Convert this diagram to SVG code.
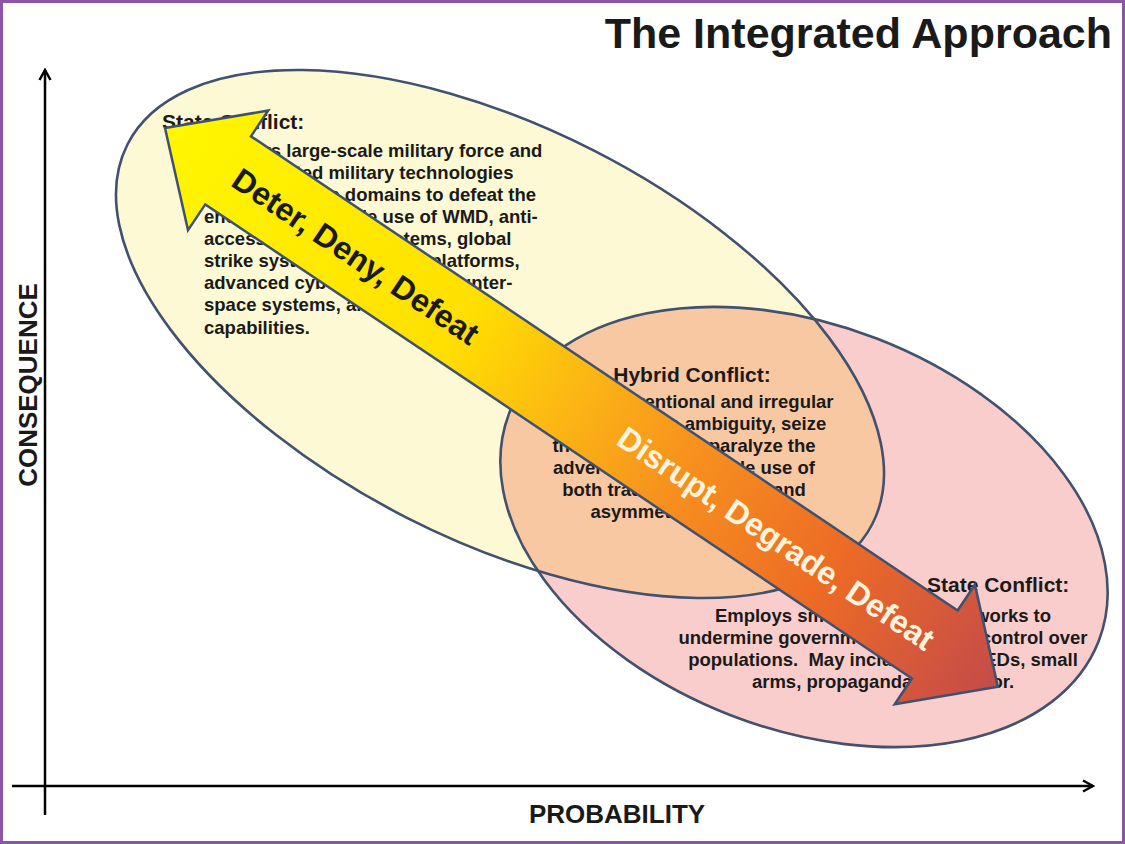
<svg xmlns="http://www.w3.org/2000/svg" width="1125" height="844" viewBox="0 0 1125 844">
<defs>
<style>
.t{font-family:"Liberation Sans",Arial,Helvetica,sans-serif;font-weight:bold;fill:#1a1a1a}
.body{font-size:18.5px}
.head{font-size:21px}
.ell{stroke:#42526e;stroke-width:2.6;fill:none}
.axis{stroke:#000;stroke-width:2.5;fill:none}
.mid{text-anchor:middle}
</style>
<ellipse id="shapeY" cx="500" cy="334" rx="418" ry="206" transform="rotate(27 500 334)"/>
<ellipse id="shapeP" cx="804" cy="527" rx="316" ry="202" transform="rotate(21.1 804 527)"/>
<clipPath id="clipY"><use href="#shapeY"/></clipPath>
<linearGradient id="arrowGrad" gradientUnits="userSpaceOnUse" x1="0" y1="0" x2="1003" y2="0">
<stop offset="0" stop-color="#FFF700"/>
<stop offset="0.35" stop-color="#FFE000"/>
<stop offset="0.5" stop-color="#FBB315"/>
<stop offset="0.62" stop-color="#F7901E"/>
<stop offset="0.8" stop-color="#EC6A26"/>
<stop offset="1" stop-color="#C44B4A"/>
</linearGradient>
<marker id="chev" viewBox="0 0 14 14" refX="12" refY="7" markerWidth="14" markerHeight="14" markerUnits="userSpaceOnUse" orient="auto">
<path d="M2,1.5 L12,7 L2,12.5" fill="none" stroke="#000" stroke-width="2.5"/>
</marker>
</defs>
<rect x="1.5" y="1.5" width="1122" height="841" fill="#fff" stroke="#8B55A8" stroke-width="3"/>
<g id="title"><text class="t" x="1112" y="48" font-size="43" text-anchor="end" fill="#000">The Integrated Approach</text></g>
<g id="axes">
<line class="axis" x1="45" y1="815" x2="45" y2="70" marker-end="url(#chev)"/>
<line class="axis" x1="12" y1="786" x2="1093" y2="786" marker-end="url(#chev)"/>
<text class="t mid" x="617" y="823" font-size="26">PROBABILITY</text>
<text class="t mid" transform="translate(37,385) rotate(-90)" font-size="26">CONSEQUENCE</text>
</g>
<g id="nonstate-conflict">
<use href="#shapeP" fill="#F9CDCC"/>
</g>
<g id="state-conflict">
<use href="#shapeY" fill="#FCF9D4"/>
</g>
<g id="hybrid-conflict">
<use href="#shapeP" fill="#F8C8A3" clip-path="url(#clipY)"/>
</g>
<g id="outlines">
<use href="#shapeP" class="ell"/>
<use href="#shapeY" class="ell"/>
</g>
<g id="state-text">
<text class="t head" x="162" y="129">State Conflict:</text>
<text class="t body" x="204" y="157">Employs large-scale military force and</text>
<text class="t body" x="204" y="179">sophisticated military technologies</text>
<text class="t body" x="204" y="201">across multiple domains to defeat the</text>
<text class="t body" x="204" y="223">enemy. May include use of WMD, anti-</text>
<text class="t body" x="204" y="245">access/area denial systems, global</text>
<text class="t body" x="204" y="267">strike systems, undersea platforms,</text>
<text class="t body" x="204" y="289">advanced cyber weapons, counter-</text>
<text class="t body" x="204" y="311">space systems, and other</text>
<text class="t body" x="204" y="334">capabilities.</text>
</g>
<g id="hybrid-text">
<text class="t head mid" x="692" y="382">Hybrid Conflict:</text>
<text class="t body mid" x="684" y="408">Blends conventional and irregular</text>
<text class="t body mid" x="684" y="430">forces to create ambiguity, seize</text>
<text class="t body mid" x="684" y="452">the initiative, and paralyze the</text>
<text class="t body mid" x="684" y="474">adversary. May include use of</text>
<text class="t body mid" x="684" y="496">both traditional military and</text>
<text class="t body mid" x="684" y="518">asymmetric systems.</text>
</g>
<g id="nonstate-text">
<text class="t head" x="927" y="592">State Conflict:</text>
<text class="t body mid" x="883" y="622">Employs small, dispersed networks to</text>
<text class="t body mid" x="883" y="644">undermine governments and gain control over</text>
<text class="t body mid" x="883" y="666" style="white-space:pre">populations.  May include use of IEDs, small</text>
<text class="t body mid" x="883" y="688">arms, propaganda, and terror.</text>
</g>
<g id="connectors">
<g id="approach-arrow" transform="translate(165,128) rotate(33.86)">
<polygon points="0,0 76,-72 76,-41 927,-41 927,-72 1003,0 927,72 927,41 76,41 76,72" fill="url(#arrowGrad)" stroke="#3F5170" stroke-width="2.5" stroke-linejoin="miter"/>
<text class="t mid" x="230" y="11.5" font-size="32" fill="#111">Deter, Deny, Defeat</text>
<text class="t mid" x="736" y="11.5" font-size="32" style="fill:#FFF3DC">Disrupt, Degrade, Defeat</text>
</g>
</g>
</svg>
